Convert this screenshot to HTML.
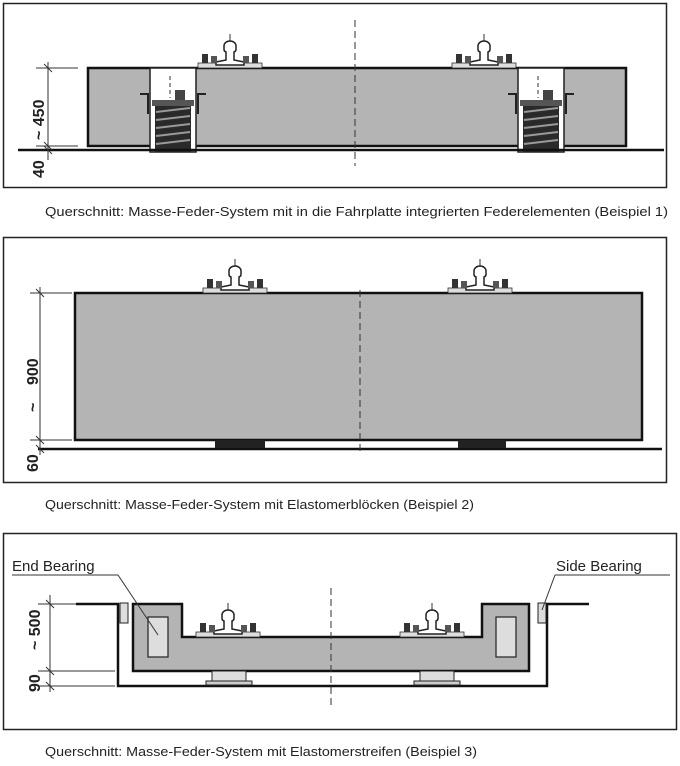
<!DOCTYPE html>
<html><head><meta charset="utf-8"><style>
html,body{margin:0;padding:0;background:#fff}
svg{display:block}
text{font-family:"Liberation Sans",sans-serif}
.cap{font-family:"Liberation Sans",sans-serif;font-size:12.5px;fill:#222}
</style></head><body>
<svg width="680" height="766" viewBox="0 0 680 766" xmlns="http://www.w3.org/2000/svg">
<defs>
<g id="rail">
<line x1="0" y1="-34" x2="0" y2="-26" stroke="#333" stroke-width="1"/>
<rect x="-32" y="-5" width="64" height="5" fill="#ddd" stroke="#333" stroke-width="0.8"/>
<path d="M-6,-22 a6,5 0 0 1 12,0 v3 a3,3 0 0 1 -2,3 v8 l10,2 v3 h-28 v-3 l10,-2 v-8 a3,3 0 0 1 -2,-3z" fill="#fff" stroke="#222" stroke-width="1.5"/>
<rect x="-28" y="-14" width="6" height="9" fill="#333"/><rect x="22" y="-14" width="6" height="9" fill="#333"/>
<rect x="-19" y="-12" width="6" height="7" fill="#555"/><rect x="13" y="-12" width="6" height="7" fill="#555"/>
</g>
<g id="spring">
<rect x="0" y="0" width="46" height="84" fill="#fff" stroke="#222" stroke-width="1.5"/>
<rect x="2" y="32" width="42" height="6" fill="#555"/>
<rect x="5" y="38" width="36" height="46" fill="#2a2a2a"/>
<path d="M6,44 l34,-4 M6,52 l34,-4 M6,60 l34,-4 M6,68 l34,-4 M6,76 l34,-4" stroke="#999" stroke-width="2"/>
<line x1="20" y1="8" x2="20" y2="30" stroke="#333" stroke-dasharray="4,3"/>
<rect x="25" y="22" width="10" height="10" fill="#444"/>
<path d="M-10,26 h8 v20 M56,26 h-8 v20" fill="none" stroke="#222" stroke-width="2"/>
</g>
</defs>

<!-- Panel 1 -->
<rect x="3.5" y="3.5" width="663" height="184" fill="none" stroke="#222" stroke-width="1.5"/>
<rect x="88" y="68" width="538" height="78" fill="#b4b4b4" stroke="#111" stroke-width="2.5"/>
<use href="#spring" x="150" y="68"/>
<use href="#spring" x="518" y="68"/>
<line x1="18" y1="150" x2="664" y2="150" stroke="#111" stroke-width="2.5"/>
<line x1="355" y1="20" x2="355" y2="166" stroke="#333" stroke-width="1" stroke-dasharray="7,4"/>
<use href="#rail" x="230" y="68"/>
<use href="#rail" x="484" y="68"/>
<g stroke="#333" stroke-width="1">
<line x1="48" y1="62" x2="48" y2="160"/><line x1="36" y1="68" x2="78" y2="68"/><line x1="36" y1="146" x2="78" y2="146"/>
<line x1="44" y1="64" x2="52" y2="72"/><line x1="44" y1="142" x2="52" y2="150"/><line x1="44" y1="146" x2="52" y2="154"/>
</g>
<text transform="translate(44,140) rotate(-90)" font-size="16" font-weight="bold" fill="#222">~ 450</text>
<text transform="translate(44,178) rotate(-90)" font-size="16" font-weight="bold" fill="#222">40</text>
<text class="cap" x="45" y="216" textLength="623" lengthAdjust="spacingAndGlyphs">Querschnitt: Masse-Feder-System mit in die Fahrplatte integrierten Federelementen (Beispiel 1)</text>

<!-- Panel 2 -->
<rect x="3.5" y="237.5" width="663" height="245" fill="none" stroke="#222" stroke-width="1.5"/>
<rect x="75" y="293" width="567" height="147" fill="#b4b4b4" stroke="#111" stroke-width="2.5"/>
<line x1="38" y1="449" x2="662" y2="449" stroke="#111" stroke-width="2.5"/>
<rect x="215" y="440" width="50" height="8" fill="#222"/><rect x="458" y="440" width="48" height="8" fill="#222"/>
<line x1="360" y1="290" x2="360" y2="455" stroke="#333" stroke-width="1" stroke-dasharray="7,4"/>
<use href="#rail" x="235" y="293"/>
<use href="#rail" x="480" y="293"/>
<g stroke="#333" stroke-width="1">
<line x1="40" y1="287" x2="40" y2="455"/><line x1="30" y1="293" x2="72" y2="293"/><line x1="30" y1="440" x2="72" y2="440"/>
<line x1="36" y1="289" x2="44" y2="297"/><line x1="36" y1="436" x2="44" y2="444"/><line x1="36" y1="445" x2="44" y2="453"/>
</g>
<text transform="translate(38,385) rotate(-90)" font-size="16" font-weight="bold" fill="#222">900</text>
<text transform="translate(38,412) rotate(-90)" font-size="16" font-weight="bold" fill="#222">~</text>
<text transform="translate(38,472) rotate(-90)" font-size="16" font-weight="bold" fill="#222">60</text>
<text class="cap" x="45" y="509" textLength="429" lengthAdjust="spacingAndGlyphs">Querschnitt: Masse-Feder-System mit Elastomerblöcken (Beispiel 2)</text>

<!-- Panel 3 -->
<rect x="3.5" y="533.5" width="673" height="196" fill="none" stroke="#222" stroke-width="1.5"/>
<path d="M76,604 H118 V686 H547 V604 H589" fill="none" stroke="#111" stroke-width="2.5"/>
<path d="M133,604 H182 V637 H482 V604 H529 V671 H133 Z" fill="#b4b4b4" stroke="#111" stroke-width="2.5"/>
<rect x="148" y="617" width="20" height="40" fill="#ddd" stroke="#222" stroke-width="1.2"/>
<rect x="496" y="617" width="20" height="40" fill="#ddd" stroke="#222" stroke-width="1.2"/>
<rect x="120" y="603" width="8" height="20" fill="#ddd" stroke="#222"/>
<rect x="538" y="603" width="8" height="20" fill="#ddd" stroke="#222"/>
<rect x="212" y="671" width="34" height="10" fill="#ddd" stroke="#222"/><rect x="206" y="681" width="46" height="4" fill="#ccc" stroke="#222"/>
<rect x="420" y="671" width="34" height="10" fill="#ddd" stroke="#222"/><rect x="414" y="681" width="46" height="4" fill="#ccc" stroke="#222"/>
<line x1="331" y1="588" x2="331" y2="705" stroke="#333" stroke-width="1" stroke-dasharray="7,4"/>
<use href="#rail" x="228" y="637"/>
<use href="#rail" x="432" y="637"/>
<g stroke="#333" stroke-width="1">
<line x1="50" y1="595" x2="50" y2="692"/><line x1="38" y1="604" x2="76" y2="604"/><line x1="38" y1="671" x2="115" y2="671"/><line x1="38" y1="686" x2="115" y2="686"/>
<line x1="46" y1="600" x2="54" y2="608"/><line x1="46" y1="667" x2="54" y2="675"/><line x1="46" y1="682" x2="54" y2="690"/>
<line x1="12" y1="575" x2="118" y2="575"/><line x1="118" y1="575" x2="158" y2="635"/>
<line x1="555" y1="575" x2="670" y2="575"/><line x1="555" y1="575" x2="542" y2="610"/>
</g>
<text x="12" y="571" font-size="15" fill="#222">End Bearing</text>
<text x="556" y="571" font-size="15" fill="#222">Side Bearing</text>
<text transform="translate(40,650) rotate(-90)" font-size="16" font-weight="bold" fill="#222">~ 500</text>
<text transform="translate(40,692) rotate(-90)" font-size="16" font-weight="bold" fill="#222">90</text>
<text class="cap" x="45" y="756" textLength="432" lengthAdjust="spacingAndGlyphs">Querschnitt: Masse-Feder-System mit Elastomerstreifen (Beispiel 3)</text>
</svg>
</body></html>
